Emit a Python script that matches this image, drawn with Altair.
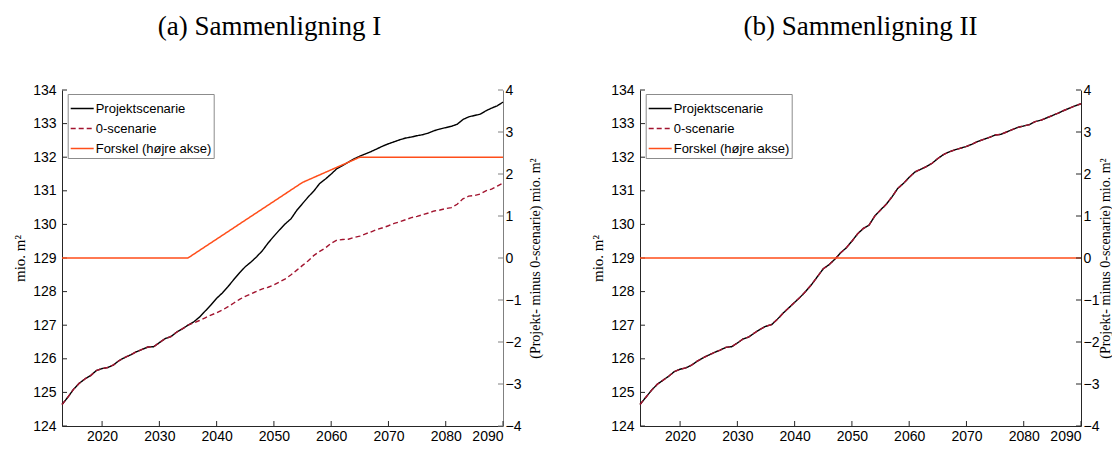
import altair as alt
import pandas as pd

# ---------------- data ----------------
years = list(range(2013, 2091))

proj_a = [124.64, 124.85, 125.09, 125.27, 125.40, 125.50, 125.65, 125.71, 125.74, 125.82,
          125.95, 126.04, 126.12, 126.21, 126.28, 126.35, 126.36, 126.48, 126.60, 126.66,
          126.79, 126.89, 127.00, 127.10, 127.24, 127.42, 127.60, 127.80, 127.96, 128.15,
          128.36, 128.56, 128.74, 128.88, 129.04, 129.22, 129.45, 129.65, 129.84, 130.02,
          130.17, 130.42, 130.62, 130.82, 131.00, 131.22, 131.35, 131.50, 131.66, 131.75,
          131.85, 131.95, 132.03, 132.10, 132.17, 132.25, 132.33, 132.40, 132.46, 132.52,
          132.57, 132.60, 132.64, 132.67, 132.72, 132.79, 132.84, 132.88, 132.92, 132.98,
          133.12, 133.20, 133.24, 133.28, 133.38, 133.46, 133.53, 133.64]

zero_a = [124.64, 124.85, 125.09, 125.27, 125.40, 125.50, 125.65, 125.71, 125.74, 125.82,
          125.95, 126.04, 126.12, 126.21, 126.28, 126.35, 126.36, 126.48, 126.60, 126.66,
          126.79, 126.89, 127.00, 127.07, 127.14, 127.22, 127.30, 127.37, 127.45, 127.55,
          127.66, 127.77, 127.86, 127.93, 128.01, 128.08, 128.13, 128.20, 128.29, 128.38,
          128.50, 128.64, 128.78, 128.92, 129.08, 129.20, 129.30, 129.44, 129.53, 129.55,
          129.56, 129.61, 129.65, 129.72, 129.78, 129.85, 129.90, 129.96, 130.03, 130.08,
          130.14, 130.20, 130.24, 130.29, 130.34, 130.40, 130.43, 130.47, 130.50, 130.60,
          130.76, 130.84, 130.86, 130.90, 131.00, 131.05, 131.14, 131.23]

diff_years_a = [2013, 2035, 2055, 2065, 2090]
diff_a = [0.0, 0.0, 1.8, 2.4, 2.4]

proj_b = [124.64, 124.85, 125.06, 125.24, 125.36, 125.48, 125.62, 125.69, 125.73, 125.81,
          125.93, 126.03, 126.11, 126.19, 126.26, 126.34, 126.36, 126.47, 126.59, 126.65,
          126.77, 126.88, 126.97, 127.02, 127.18, 127.36, 127.52, 127.68, 127.84, 128.02,
          128.22, 128.45, 128.68, 128.80, 128.96, 129.15, 129.30, 129.50, 129.72, 129.88,
          129.98, 130.25, 130.43, 130.60, 130.82, 131.07, 131.22, 131.40, 131.56, 131.64,
          131.72, 131.82, 131.96, 132.08, 132.16, 132.22, 132.27, 132.32, 132.39, 132.47,
          132.53, 132.59, 132.66, 132.68, 132.75, 132.82, 132.89, 132.93, 132.97, 133.06,
          133.10, 133.17, 133.24, 133.31, 133.39, 133.46, 133.53, 133.59]
zero_b = list(proj_b)

diff_years_b = [2013, 2090]
diff_b = [0.0, 0.0]

series_names = ["Projektscenarie", "0-scenarie", "Forskel (højre akse)"]
series_colors = ["#000000", "#A2142F", "#FF4E1A"]
series_dash = [[1, 0], [5, 3], [1, 0]]

x_ticks = [2020, 2030, 2040, 2050, 2060, 2070, 2080, 2090]
left_ticks = list(range(124, 135))
right_ticks = list(range(-4, 5))

W, H = 441, 336
SANS = "Liberation Sans"
SERIF = "Liberation Serif"


def legend():
    return alt.Legend(title=None, orient="none", legendX=5.7, legendY=4,
                      fillColor="white", strokeColor="#8c8c8c", padding=2,
                      labelFont=SANS, labelFontSize=13, labelColor="#000",
                      symbolType="stroke", symbolSize=529, symbolStrokeWidth=1.5,
                      labelOffset=1, rowPadding=-8)


def panel(title, proj, zero, dyears, diff, right_col, dx, rpad):
    df_p = pd.DataFrame({"year": years, "v": proj, "s": series_names[0]})
    df_z = pd.DataFrame({"year": years, "v": zero, "s": series_names[1]})
    df_d = pd.DataFrame({"year": dyears, "d": diff, "s": series_names[2]})

    xenc = alt.X("year:Q",
                 scale=alt.Scale(domain=[2013, 2090], nice=False, zero=False),
                 axis=alt.Axis(values=x_ticks, format="d", ticks=False, grid=False,
                               title=None, domainColor="#262626", labelColor="#000",
                               labelFont=SANS, labelFontSize=14, labelPadding=3))
    yl = alt.Y("v:Q", scale=alt.Scale(domain=[124, 134], nice=False, zero=False),
               axis=alt.Axis(values=left_ticks, ticks=False, grid=False, title="mio. m²",
                             titleFont=SERIF, titleFontSize=15, titleFontWeight="normal",
                             titleColor="#000", labelFont=SANS, labelFontSize=14,
                             labelColor="#000", labelPadding=6, titlePadding=5,
                             domainColor="#262626"))
    yr = alt.Y("d:Q", scale=alt.Scale(domain=[-4, 4], nice=False, zero=False),
               axis=alt.Axis(orient="right", values=right_ticks, ticks=False, grid=False,
                             title="(Projekt- minus 0-scenarie) mio. m²", titleAngle=270,
                             titleBaseline="top",
                             titleFont=SERIF, titleFontSize=14, titleFontWeight="normal",
                             titleColor="#000", labelFont=SANS, labelFontSize=14,
                             labelColor="#000", labelPadding=2, titlePadding=rpad,
                             domainColor=right_col))
    cenc = alt.Color("s:N", scale=alt.Scale(domain=series_names, range=series_colors),
                     legend=legend())
    denc = alt.StrokeDash("s:N", scale=alt.Scale(domain=series_names, range=series_dash),
                          legend=legend())

    p_line = alt.Chart(df_p).mark_line(strokeWidth=1.4).encode(
        x=xenc, y=yl, color=cenc, strokeDash=denc)
    z_line = alt.Chart(df_z).mark_line(strokeWidth=1.4).encode(
        x=xenc, y=yl, color=cenc, strokeDash=denc)
    lt = alt.Chart(pd.DataFrame({"v": left_ticks})).mark_rule(color="#262626").encode(
        y=yl, x=alt.value(0), x2=alt.value(5))
    xt = alt.Chart(pd.DataFrame({"year": x_ticks})).mark_rule(color="#262626").encode(
        x=xenc, y=alt.value(H), y2=alt.value(H - 5))
    left_layer = alt.layer(p_line, z_line, lt, xt)

    d_line = alt.Chart(df_d).mark_line(strokeWidth=1.5).encode(
        x=xenc, y=yr, color=cenc, strokeDash=denc)
    rt = alt.Chart(pd.DataFrame({"d": right_ticks})).mark_rule(color=right_col).encode(
        y=yr, x=alt.value(W - 5), x2=alt.value(W))
    right_layer = alt.layer(d_line, rt)

    return alt.layer(left_layer, right_layer).resolve_scale(y="independent").properties(
        width=W, height=H,
        title=alt.TitleParams(title, font=SERIF, fontSize=27, fontWeight="normal",
                              anchor="middle", offset=42, dx=dx, color="#000"))


left = panel("(a) Sammenligning I", proj_a, zero_a, diff_years_a, diff_a, "#808080", -13, 8)
right = panel("(b) Sammenligning II", proj_b, zero_b, diff_years_b, diff_b, "#262626", 0, 0)

chart = alt.hconcat(left, right, spacing=137, bounds="flush").resolve_scale(
    color="independent", strokeDash="independent"
).properties(
    autosize=alt.AutoSizeParams(type="none"),
    padding={"left": 54, "top": 82, "right": 1050, "bottom": 354},
    background="white"
).configure_view(stroke=None)

chart.save("out.html", embed_options={"renderer": "svg", "actions": False})
